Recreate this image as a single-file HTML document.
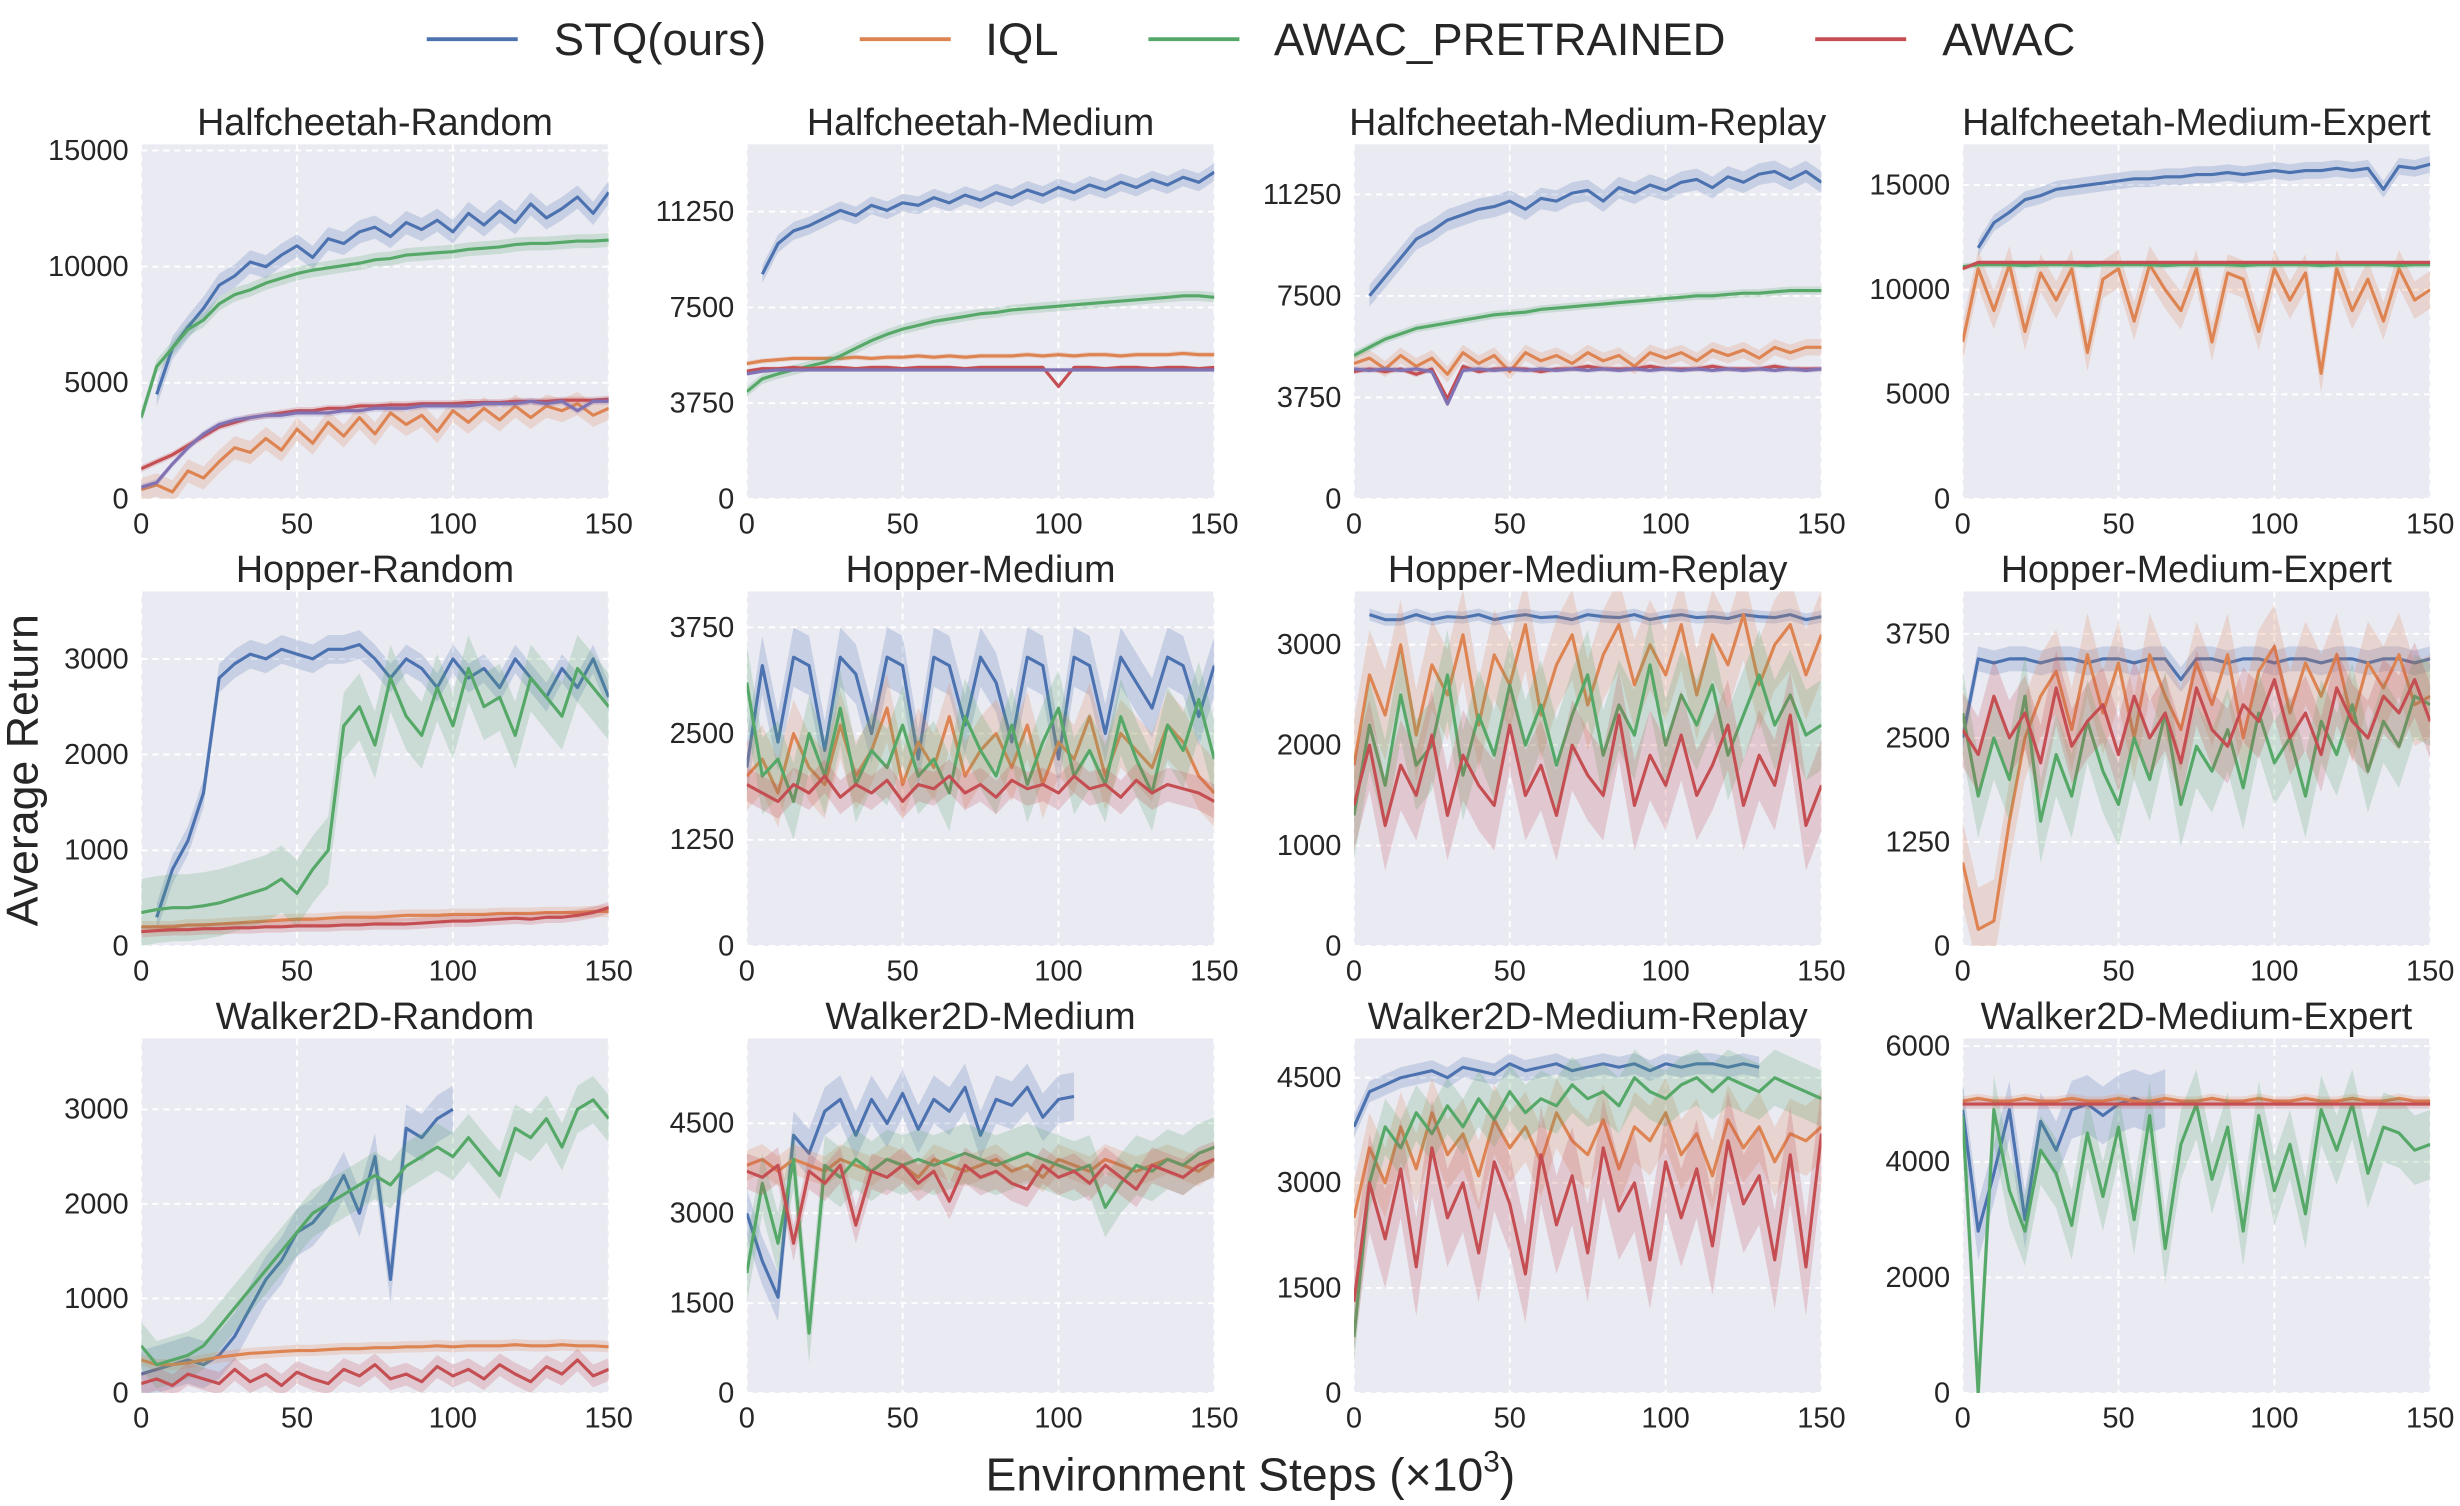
<!DOCTYPE html>
<html><head><meta charset="utf-8">
<style>
html,body{margin:0;padding:0;background:#fff;}
svg{display:block;}
text{font-family:"Liberation Sans",Arial,sans-serif;fill:#262626;}
</style></head>
<body>
<svg id="fig" width="2460" height="1506" viewBox="0 0 1568 960" preserveAspectRatio="none" xmlns="http://www.w3.org/2000/svg">
<g>
 <g><line x1="272" y1="25" x2="330" y2="25" stroke="#4c72b0" stroke-width="2.5"/><text x="353" y="35" font-size="29">STQ(ours)</text></g>
 <g><line x1="548" y1="25" x2="606" y2="25" stroke="#dd8452" stroke-width="2.5"/><text x="628" y="35" font-size="29">IQL</text></g>
 <g><line x1="732" y1="25" x2="790" y2="25" stroke="#55a868" stroke-width="2.5"/><text x="812" y="35" font-size="29">AWAC_PRETRAINED</text></g>
 <g><line x1="1157" y1="25" x2="1215" y2="25" stroke="#c44e52" stroke-width="2.5"/><text x="1238" y="35" font-size="29">AWAC</text></g>
</g>
<text x="0" y="0" font-size="28.5" text-anchor="middle" transform="translate(24,491) rotate(-90)">Average Return</text>
<text x="797" y="950" font-size="29.5" text-anchor="middle">Environment Steps (×10<tspan font-size="19" dy="-12">3</tspan><tspan dy="12">)</tspan></text>
<g id="panels"></g>
</svg>
<script>
const xTicks = [0,50,100,150];
const seriesNames = ['stq','iql','awac-pretrained','awac','extra'];
const seriesColors = ['#4c72b0','#dd8452','#55a868','#c44e52','#8172b3'];

const hcRandomTitle = 'Halfcheetah-Random';
const hcRandomTicks = [0,5000,10000,15000];
const hcRandomBlue = [null,4500,6500,7400,8200,9200,9600,10200,10000,10500,10900,10400,11200,11000,11500,11700,11300,11900,11600,12000,11500,12300,11800,12400,11900,12700,12100,12500,13000,12300,13200];
const hcRandomOrange = [400,600,300,1200,900,1600,2200,2000,2600,2100,3000,2400,3300,2700,3500,2800,3700,3200,3600,2900,3800,3300,3900,3400,4000,3500,4000,3800,4100,3600,3900];
const hcRandomGreen = [3500,5700,6500,7300,7700,8400,8800,9000,9300,9500,9700,9850,9950,10050,10150,10300,10350,10500,10550,10600,10650,10750,10800,10850,10950,11000,11000,11050,11100,11100,11150];
const hcRandomRed = [1300,1600,1900,2300,2700,3100,3300,3500,3600,3700,3800,3800,3900,3900,4000,4000,4050,4050,4100,4100,4100,4150,4150,4150,4200,4200,4200,4250,4250,4250,4300];
const hcRandomPurple = [500,700,1500,2200,2800,3200,3400,3500,3600,3600,3700,3700,3700,3800,3800,3900,3900,3900,4000,4000,4000,4000,4100,4100,4100,4200,4100,4200,3800,4200,4200];

const hcMedTitle = 'Halfcheetah-Medium';
const hcMedTicks = [0,3750,7500,11250];
const hcMedBlue = [null,8800,10000,10500,10700,11000,11300,11100,11500,11300,11600,11500,11800,11600,11900,11700,12000,11800,12100,11900,12200,12000,12300,12100,12400,12200,12500,12300,12600,12400,12800];
const hcMedOrange = [5300,5400,5450,5500,5500,5500,5500,5550,5500,5550,5550,5600,5550,5600,5550,5600,5600,5600,5650,5600,5650,5600,5650,5650,5600,5650,5650,5650,5700,5650,5650];
const hcMedGreen = [4200,4700,4900,5050,5200,5350,5600,5900,6200,6450,6650,6800,6950,7050,7150,7250,7300,7400,7450,7500,7550,7600,7650,7700,7750,7800,7850,7900,7950,7950,7900];
const hcMedRed = [5000,5100,5100,5150,5100,5150,5150,5100,5150,5150,5100,5150,5150,5150,5100,5150,5150,5150,5150,5150,4400,5150,5150,5100,5150,5150,5100,5150,5150,5100,5150];
const hcMedPurple = [4900,5000,5050,5050,5050,5050,5050,5050,5050,5050,5050,5050,5050,5050,5050,5050,5050,5050,5050,5050,5050,5050,5050,5050,5050,5050,5050,5050,5050,5050,5050];

const hcMrTitle = 'Halfcheetah-Medium-Replay';
const hcMrTicks = [0,3750,7500,11250];
const hcMrBlue = [null,7500,8200,8900,9600,9900,10300,10500,10700,10800,11000,10700,11100,11000,11300,11400,11000,11500,11300,11600,11400,11700,11800,11500,11900,11700,12000,12100,11800,12100,11700];
const hcMrOrange = [5000,5200,4800,5300,4900,5200,4600,5400,5000,5300,4700,5400,5100,5300,5000,5400,5100,5300,4900,5400,5200,5400,5100,5500,5300,5500,5200,5600,5400,5600,5600];
const hcMrGreen = [5300,5600,5900,6100,6300,6400,6500,6600,6700,6800,6850,6900,7000,7050,7100,7150,7200,7250,7300,7350,7400,7450,7500,7500,7550,7600,7600,7650,7700,7700,7700];
const hcMrRed = [4700,4800,4700,4800,4600,4800,3700,4900,4700,4800,4800,4800,4700,4800,4800,4900,4800,4800,4800,4900,4800,4800,4800,4900,4800,4800,4800,4900,4800,4800,4800];
const hcMrPurple = [4800,4750,4800,4750,4800,4700,3500,4750,4800,4750,4800,4750,4800,4750,4800,4750,4800,4750,4800,4750,4800,4750,4800,4750,4800,4750,4800,4750,4800,4750,4800];

const hcMeTitle = 'Halfcheetah-Medium-Expert';
const hcMeTicks = [0,5000,10000,15000];
const hcMeBlue = [null,12000,13200,13700,14300,14500,14800,14900,15000,15100,15200,15300,15300,15400,15400,15500,15500,15600,15500,15600,15700,15600,15700,15700,15800,15700,15800,14800,15900,15800,16000];
const hcMeOrange = [7500,11000,9000,11200,8000,10800,9500,11000,7000,10500,11000,8500,11200,10000,9000,11000,7500,10800,10500,8000,11000,9500,10800,6000,11000,9000,10500,8500,11000,9500,10000];
const hcMeGreen = [11100,11200,11200,11200,11150,11200,11200,11200,11150,11200,11200,11200,11200,11150,11200,11200,11200,11200,11150,11200,11200,11200,11200,11150,11200,11200,11200,11200,11150,11200,11200];
const hcMeRed = [11000,11300,11300,11300,11300,11300,11300,11300,11300,11300,11300,11300,11300,11300,11300,11300,11300,11300,11300,11300,11300,11300,11300,11300,11300,11300,11300,11300,11300,11300,11300];

const hoRandomTitle = 'Hopper-Random';
const hoRandomTicks = [0,1000,2000,3000];
const hoRandomBlue = [null,300,800,1100,1600,2800,2950,3050,3000,3100,3050,3000,3100,3100,3150,3000,2800,3000,2900,2700,3000,2800,2900,2700,3000,2800,2600,2900,2700,3000,2600];
const hoRandomOrange = [200,200,200,220,220,230,240,250,260,270,280,280,290,300,300,300,310,320,320,320,330,330,330,340,340,340,350,350,350,360,360];
const hoRandomGreen = [350,380,400,400,420,450,500,550,600,700,550,800,1000,2300,2500,2100,2800,2400,2200,2700,2300,2900,2500,2600,2200,2800,2600,2400,2900,2700,2500];
const hoRandomRed = [150,160,170,170,180,180,190,190,200,200,210,210,210,220,220,230,230,230,240,250,260,260,270,280,290,280,300,300,320,350,400];

const hoMedTitle = 'Hopper-Medium';
const hoMedTicks = [0,1250,2500,3750];
const hoMedBlue = [2100,3300,2400,3400,3300,2300,3400,3200,2500,3400,3300,2200,3400,3300,2600,3400,3100,2400,3400,3300,2200,3400,3300,2500,3400,3100,2800,3400,3300,2700,3300];
const hoMedOrange = [2000,2200,1800,2500,2100,1900,2600,2000,2300,2800,1900,2400,2100,2700,2000,2300,2500,2100,2600,1900,2400,2200,2700,2000,2500,2300,2100,2600,2400,2000,1800];
const hoMedGreen = [3100,2000,2200,1700,2500,2000,2800,1900,2300,2100,2600,2000,2200,1800,2700,2300,2000,2600,1900,2400,2800,2000,2300,1900,2700,2200,1800,2600,2300,2900,2200];
const hoMedRed = [1900,1800,1700,1900,1800,2000,1750,1900,1800,1950,1700,1900,1850,2000,1800,1900,1750,1950,1850,1900,1800,2000,1850,1900,1750,1950,1800,1900,1850,1800,1700];

const hoMrTitle = 'Hopper-Medium-Replay';
const hoMrTicks = [0,1000,2000,3000];
const hoMrBlue = [null,3300,3250,3250,3300,3250,3280,3270,3300,3250,3280,3300,3270,3280,3250,3300,3280,3270,3300,3250,3280,3300,3270,3280,3260,3300,3280,3270,3300,3250,3280];
const hoMrOrange = [1800,2700,2300,3000,2100,2800,2500,3100,2200,2900,2600,3200,2300,2800,3100,2400,2900,3200,2600,3000,2700,3200,2500,3100,2800,3300,2600,3000,3200,2700,3100];
const hoMrGreen = [1300,2200,1600,2500,1800,2000,2700,1700,2300,1900,2600,2000,2400,1800,2300,2700,1900,2400,2100,2800,2000,2500,2200,2600,1900,2300,2700,2200,2500,2100,2200];
const hoMrRed = [1400,2000,1200,1800,1500,2100,1300,1900,1600,1400,2200,1500,1800,1300,2000,1700,1500,2300,1400,1900,1600,2100,1500,1800,2200,1400,1900,1600,2300,1200,1600];

const hoMeTitle = 'Hopper-Medium-Expert';
const hoMeTicks = [0,1250,2500,3750];
const hoMeBlue = [2500,3450,3400,3450,3450,3400,3450,3450,3400,3450,3450,3400,3450,3450,3200,3450,3450,3400,3450,3450,3400,3450,3450,3400,3450,3450,3400,3450,3450,3400,3450];
const hoMeOrange = [1000,200,300,1500,2500,3000,3300,2600,3500,2800,3400,2500,3500,3000,2600,3400,2900,3500,2500,3300,3600,2800,3400,3000,3500,2700,3400,3100,3500,2900,3000];
const hoMeGreen = [2800,1800,2500,2000,3000,1500,2300,1800,2700,2100,1700,2500,2000,2800,1700,2400,2100,2600,1900,2800,2200,2500,1800,2700,2300,2900,2100,2700,2400,3000,2900];
const hoMeRed = [2600,2300,3000,2500,2800,2200,3100,2400,2700,2900,2300,3000,2500,2800,2200,3100,2600,2400,2900,2700,3200,2500,2800,2300,3100,2700,2500,3000,2800,3200,2700];

const waRandomTitle = 'Walker2D-Random';
const waRandomTicks = [0,1000,2000,3000];
const waRandomBlue = [200,250,300,350,300,400,600,900,1200,1400,1700,1800,2000,2300,1900,2500,1200,2800,2700,2900,3000,null,null,null,null,null,null,null,null,null,null];
const waRandomOrange = [350,300,300,320,350,380,400,420,430,440,450,450,460,470,470,480,480,490,490,500,490,500,500,500,510,500,500,510,500,500,490];
const waRandomGreen = [500,300,350,400,500,700,900,1100,1300,1500,1700,1900,2000,2100,2200,2300,2200,2400,2500,2600,2500,2700,2500,2300,2800,2700,2900,2600,3000,3100,2900];
const waRandomRed = [100,150,80,200,150,100,250,120,200,80,220,150,100,250,180,300,150,200,120,280,180,250,150,300,200,120,280,200,350,180,250];

const waMedTitle = 'Walker2D-Medium';
const waMedTicks = [0,1500,3000,4500];
const waMedBlue = [3000,2200,1600,4300,4000,4700,4900,4300,4900,4500,5000,4400,4900,4700,5100,4300,4900,4800,5100,4600,4900,4950,null,null,null,null,null,null,null,null,null];
const waMedOrange = [3800,3900,3700,3900,3800,3700,3900,3800,3700,3900,3800,3600,3900,3800,3700,3800,3900,3700,3800,3600,3900,3800,3700,3900,3800,3700,3800,3900,3800,3700,3900];
const waMedGreen = [2000,3500,2500,3900,1000,3800,3600,3900,3700,3900,3800,3900,3800,3900,4000,3900,3800,3900,4000,3900,3800,3700,3800,3100,3500,3800,3700,3900,3800,4000,4100];
const waMedRed = [3700,3600,3800,2500,3700,3500,3800,2800,3700,3600,3800,3500,3700,3200,3800,3600,3700,3500,3400,3800,3600,3700,3500,3800,3600,3400,3800,3700,3600,3800,3900];

const waMrTitle = 'Walker2D-Medium-Replay';
const waMrTicks = [0,1500,3000,4500];
const waMrBlue = [3800,4300,4400,4500,4550,4600,4500,4650,4600,4550,4700,4600,4650,4700,4600,4650,4700,4650,4700,4600,4700,4650,4700,4700,4650,4700,4650,null,null,null,null];
const waMrOrange = [2500,3500,3000,3800,3200,4000,3400,3700,3100,3900,3500,3800,3300,4000,3600,3400,3900,3200,3800,3600,4000,3400,3700,3100,3900,3500,3800,3300,3700,3600,3800];
const waMrGreen = [800,3000,3800,3500,4000,3700,4100,3800,4200,3900,4300,4000,4200,4100,4400,4200,4300,4100,4500,4300,4200,4400,4500,4300,4500,4400,4300,4500,4400,4300,4200];
const waMrRed = [1300,3000,2200,3200,1800,3500,2500,3000,2000,3300,2700,1700,3400,2400,3100,2000,3500,2600,3000,1900,3300,2500,3200,2100,3600,2700,3100,1900,3400,1800,3700];

const waMeTitle = 'Walker2D-Medium-Expert';
const waMeTicks = [0,2000,4000,6000];
const waMeBlue = [4900,2800,3800,4900,3000,4700,4200,4900,5000,4800,5000,5100,5000,5100,null,null,null,null,null,null,null,null,null,null,null,null,null,null,null,null,null];
const waMeOrange = [5050,5100,5050,5050,5100,5050,5050,5100,5050,5050,5100,5050,5050,5100,5050,5050,5100,5050,5050,5100,5050,5050,5100,5050,5050,5100,5050,5050,5100,5050,5050];
const waMeGreen = [4800,0,4900,3500,2800,4200,3800,2900,4500,3400,4600,3000,4800,2500,4300,5000,3700,4600,2800,4800,3500,4300,3100,4900,4200,5000,3800,4600,4500,4200,4300];
const waMeRed = [5000,5000,5000,5000,5000,5000,5000,5000,5000,5000,5000,5000,5000,5000,5000,5000,5000,5000,5000,5000,5000,5000,5000,5000,5000,5000,5000,5000,5000,5000,5000];

const xStep = 5;
const panels = [
 {t:hcRandomTitle,ticks:hcRandomTicks,ymax:15270,s:[hcRandomBlue,hcRandomOrange,hcRandomGreen,hcRandomRed,hcRandomPurple],sp:[500,500,300,150,150]},
 {t:hcMedTitle,ticks:hcMedTicks,ymax:13890,s:[hcMedBlue,hcMedOrange,hcMedGreen,hcMedRed,hcMedPurple],sp:[350,100,200,80,80]},
 {t:hcMrTitle,ticks:hcMrTicks,ymax:13100,s:[hcMrBlue,hcMrOrange,hcMrGreen,hcMrRed,hcMrPurple],sp:[400,300,150,100,100]},
 {t:hcMeTitle,ticks:hcMeTicks,ymax:16950,s:[hcMeBlue,hcMeOrange,hcMeGreen,hcMeRed],sp:[400,900,150,100]},
 {t:hoRandomTitle,ticks:hoRandomTicks,ymax:3705,s:[hoRandomBlue,hoRandomOrange,hoRandomGreen,hoRandomRed],sp:[150,60,350,60]},
 {t:hoMedTitle,ticks:hoMedTicks,ymax:4173,s:[hoMedBlue,hoMedOrange,hoMedGreen,hoMedRed],sp:[350,400,450,200]},
 {t:hoMrTitle,ticks:hoMrTicks,ymax:3531,s:[hoMrBlue,hoMrOrange,hoMrGreen,hoMrRed],sp:[60,450,450,450]},
 {t:hoMeTitle,ticks:hoMeTicks,ymax:4260,s:[hoMeBlue,hoMeOrange,hoMeGreen,hoMeRed],sp:[150,500,500,450]},
 {t:waRandomTitle,ticks:waRandomTicks,ymax:3748,s:[waRandomBlue,waRandomOrange,waRandomGreen,waRandomRed],sp:[250,60,250,120]},
 {t:waMedTitle,ticks:waMedTicks,ymax:5915,s:[waMedBlue,waMedOrange,waMedGreen,waMedRed],sp:[400,250,500,300]},
 {t:waMrTitle,ticks:waMrTicks,ymax:5060,s:[waMrBlue,waMrOrange,waMrGreen,waMrRed],sp:[150,500,400,700]},
 {t:waMeTitle,ticks:waMeTicks,ymax:6133,s:[waMeBlue,waMeOrange,waMeGreen,waMeRed],sp:[500,80,600,80]}
];
const colLeft = [90,476,863,1251];
const rowTop = [92,377,662];
const pw = 298, ph = 226;
const NS = 'http://www.w3.org/2000/svg';
const root = document.getElementById('panels');
function mk(tag, attrs, parent){const e=document.createElementNS(NS,tag);for(const k in attrs)e.setAttribute(k,attrs[k]);parent.appendChild(e);return e;}
panels.forEach((p,i)=>{
 const L=colLeft[i%4], T=rowTop[Math.floor(i/4)];
 const xs=v=>L+v/150*pw, ys=v=>T+ph-v/p.ymax*ph;
 const slug=p.t.toLowerCase();
 const g=mk('g',{},root);
 
 
 const bg=mk('rect',{x:L,y:T,width:pw,height:ph,fill:'#eaeaf2'},g);
 
 
 p.ticks.forEach(tv=>{
  mk('line',{x1:L,x2:L+pw,y1:ys(tv),y2:ys(tv),stroke:'#fff','stroke-width':1.2,'stroke-dasharray':'4,3'},g);
  const tl=mk('text',{x:L-8,y:ys(tv)+6,'font-size':18.5,'text-anchor':'end'},g);
  tl.textContent=tv;
  
  
 });
 xTicks.forEach(tv=>{
  mk('line',{x1:xs(tv),x2:xs(tv),y1:T,y2:T+ph,stroke:'#fff','stroke-width':1.2,'stroke-dasharray':'4,3'},g);
  const tl=mk('text',{x:xs(tv),y:T+ph+22,'font-size':18.5,'text-anchor':'middle'},g);
  tl.textContent=tv;
  
  
 });
 const tt=mk('text',{x:L+pw/2,y:T-6,'font-size':24,'text-anchor':'middle'},g);
 tt.textContent=p.t;
 
 
 const clip=mk('clipPath',{id:'c'+i},g);
 mk('rect',{x:L,y:T,width:pw,height:ph},clip);
 const sg=mk('g',{'clip-path':'url(#c'+i+')'},g);
 p.s.forEach((arr,k)=>{
  const pts=[];
  arr.forEach((v,j)=>{if(v!==null)pts.push([xs(j*xStep),v]);});
  const sd=p.sp[k];
  const up=pts.map(q=>q[0].toFixed(1)+','+ys(q[1]+sd).toFixed(1));
  const dn=pts.map(q=>q[0].toFixed(1)+','+ys(q[1]-sd).toFixed(1)).reverse();
  const band=mk('polygon',{points:up.concat(dn).join(' '),fill:seriesColors[k],'fill-opacity':0.22,stroke:'none'},sg);
  
  
  const ln=mk('polyline',{points:pts.map(q=>q[0].toFixed(1)+','+ys(q[1]).toFixed(1)).join(' '),fill:'none',stroke:seriesColors[k],'stroke-width':2,'stroke-linejoin':'round'},sg);
  
  
 });
});
</script>
</body></html>
